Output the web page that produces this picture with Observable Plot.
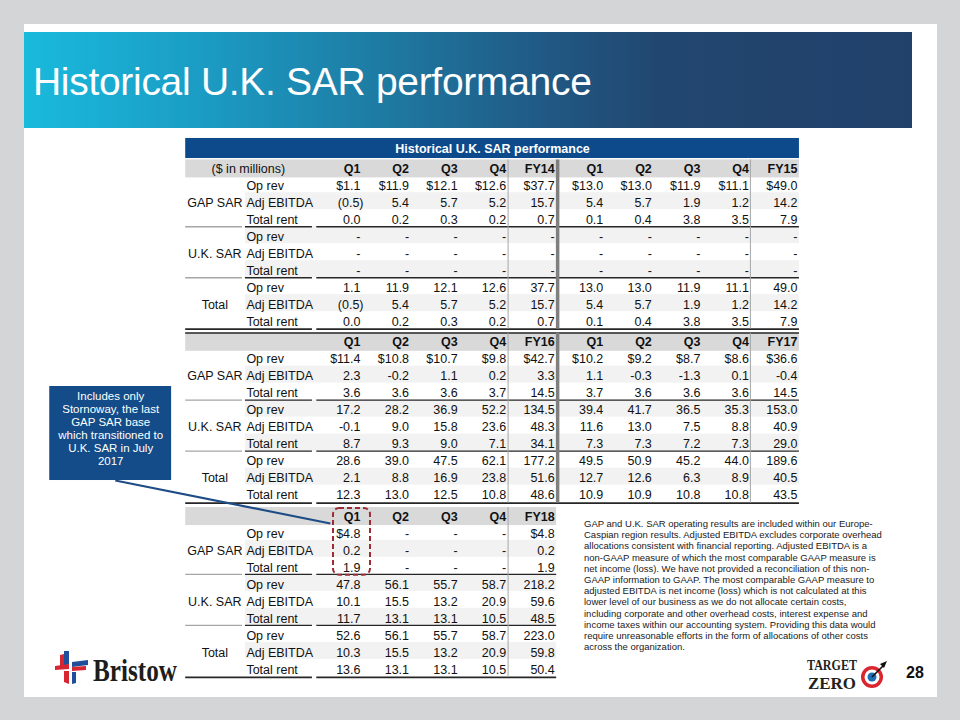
<!DOCTYPE html>
<html>
<head>
<meta charset="utf-8">
<script src="https://cdn.jsdelivr.net/npm/d3@7"></script>
<script src="https://cdn.jsdelivr.net/npm/@observablehq/plot@0.6"></script>
<style>
  html, body { margin: 0; padding: 0; }
  body { width: 960px; height: 720px; background: #d4d5d7; position: relative; overflow: hidden;
         font-family: "Liberation Sans", Arial, sans-serif; }
  #slide { position: absolute; left: 24px; top: 24px; width: 913px; height: 673px; background: #fff; }
  #banner { position: absolute; left: 24px; top: 32px; width: 888px; height: 96px;
            background: linear-gradient(to right, #19badd 0%, #1b9cc4 20%, #1e7ba3 40%, #205a85 58%, #21466f 72%, #21416b 100%); }
  #title { position: absolute; left: 33px; top: 62px; color: #fff; font-size: 39px; line-height: 39px;
           white-space: nowrap; letter-spacing: -0.3px; }
  #chart { position: absolute; left: 0; top: 0; }
  #note { position: absolute; left: 584px; top: 518px; font-size: 9.5px; line-height: 11.2px; color: #1a1a1a;
          white-space: nowrap; }
  #page { position: absolute; left: 906px; top: 664px; font-size: 16px; font-weight: bold; color: #111; }
  #logos { position: absolute; left: 0; top: 0; }
</style>
</head>
<body>
<div id="slide"></div>
<div id="banner"></div>
<div id="title">Historical U.K. SAR performance</div>
<div id="chart"></div>
<div id="note">GAP and U.K. SAR operating results are included within our Europe-<br>Caspian region results. Adjusted EBITDA excludes corporate overhead<br>allocations consistent with financial reporting. Adjusted EBITDA is a<br>non-GAAP measure of which the most comparable GAAP measure is<br>net income (loss). We have not provided a reconciliation of this non-<br>GAAP information to GAAP. The most comparable GAAP measure to<br>adjusted EBITDA is net income (loss) which is not calculated at this<br>lower level of our business as we do not allocate certain costs,<br>including corporate and other overhead costs, interest expense and<br>income taxes within our accounting system. Providing this data would<br>require unreasonable efforts in the form of allocations of other costs<br>across the organization.</div>
<div id="page">28</div>
<svg id="logos" width="960" height="720">
  <!-- Bristow mark -->
  <g>
    <polygon points="64,651 69,651 69,664 64,666" fill="#1f4f9a"/>
    <polygon points="60,655 64,654 64,666 60,667" fill="#d62631"/>
    <polygon points="55,666 69,664 69,669 55,670" fill="#d62631"/>
    <polygon points="72,662 88,660 88,665 72,667" fill="#1f4f9a"/>
    <polygon points="72,667 86,666 86,670 72,671" fill="#d62631"/>
    <polygon points="64,671 69,671 69,684 64,682" fill="#d62631"/>
    <polygon points="72,672 76,672 76,683 72,684" fill="#1f4f9a"/>
  </g>
  <text x="93" y="681" font-family="'Liberation Serif', 'DejaVu Serif', serif" font-weight="bold" font-size="31" fill="#1d1d1b" textLength="84" lengthAdjust="spacingAndGlyphs">Bristow</text>
  <!-- Target Zero -->
  <text x="807" y="670" font-family="'Liberation Serif', serif" font-weight="bold" font-size="14.5" fill="#231f20" textLength="50" lengthAdjust="spacingAndGlyphs">TARGET</text>
  <text x="808" y="689" font-family="'Liberation Serif', serif" font-weight="bold" font-size="17.5" fill="#231f20" textLength="48" lengthAdjust="spacingAndGlyphs">ZERO</text>
  <circle cx="872" cy="677" r="11" fill="#d9262f"/>
  <circle cx="872" cy="677" r="7.5" fill="#fff"/>
  <circle cx="872" cy="677" r="4.5" fill="#1c6fb5"/>
  <line x1="872" y1="677" x2="884" y2="665" stroke="#111" stroke-width="1.6"/>
  <polygon points="880,664 887,661 884,668" fill="#111"/>
</svg>
<script>
// ---------- data ----------
const tableTitle = "Historical U.K. SAR performance";
const unitLabel = "($ in millions)";
const segments = ["GAP SAR", "U.K. SAR", "Total"];
const metrics = ["Op rev", "Adj EBITDA", "Total rent"];

const periods1 = ["Q1", "Q2", "Q3", "Q4", "FY14", "Q1", "Q2", "Q3", "Q4", "FY15"];
const periods2 = ["Q1", "Q2", "Q3", "Q4", "FY16", "Q1", "Q2", "Q3", "Q4", "FY17"];
const periods3 = ["Q1", "Q2", "Q3", "Q4", "FY18"];

// FY14-FY15
const gap1415 = [
  [1.1, 11.9, 12.1, 12.6, 37.7, 13.0, 13.0, 11.9, 11.1, 49.0],
  [-0.5, 5.4, 5.7, 5.2, 15.7, 5.4, 5.7, 1.9, 1.2, 14.2],
  [0.0, 0.2, 0.3, 0.2, 0.7, 0.1, 0.4, 3.8, 3.5, 7.9]
];
const uk1415 = [
  [null, null, null, null, null, null, null, null, null, null],
  [null, null, null, null, null, null, null, null, null, null],
  [null, null, null, null, null, null, null, null, null, null]
];
const total1415 = [
  [1.1, 11.9, 12.1, 12.6, 37.7, 13.0, 13.0, 11.9, 11.1, 49.0],
  [-0.5, 5.4, 5.7, 5.2, 15.7, 5.4, 5.7, 1.9, 1.2, 14.2],
  [0.0, 0.2, 0.3, 0.2, 0.7, 0.1, 0.4, 3.8, 3.5, 7.9]
];
// FY16-FY17
const gap1617 = [
  [11.4, 10.8, 10.7, 9.8, 42.7, 10.2, 9.2, 8.7, 8.6, 36.6],
  [2.3, -0.2, 1.1, 0.2, 3.3, 1.1, -0.3, -1.3, 0.1, -0.4],
  [3.6, 3.6, 3.6, 3.7, 14.5, 3.7, 3.6, 3.6, 3.6, 14.5]
];
const uk1617 = [
  [17.2, 28.2, 36.9, 52.2, 134.5, 39.4, 41.7, 36.5, 35.3, 153.0],
  [-0.1, 9.0, 15.8, 23.6, 48.3, 11.6, 13.0, 7.5, 8.8, 40.9],
  [8.7, 9.3, 9.0, 7.1, 34.1, 7.3, 7.3, 7.2, 7.3, 29.0]
];
const total1617 = [
  [28.6, 39.0, 47.5, 62.1, 177.2, 49.5, 50.9, 45.2, 44.0, 189.6],
  [2.1, 8.8, 16.9, 23.8, 51.6, 12.7, 12.6, 6.3, 8.9, 40.5],
  [12.3, 13.0, 12.5, 10.8, 48.6, 10.9, 10.9, 10.8, 10.8, 43.5]
];
// FY18
const gap18 = [
  [4.8, null, null, null, 4.8],
  [0.2, null, null, null, 0.2],
  [1.9, null, null, null, 1.9]
];
const uk18 = [
  [47.8, 56.1, 55.7, 58.7, 218.2],
  [10.1, 15.5, 13.2, 20.9, 59.6],
  [11.7, 13.1, 13.1, 10.5, 48.5]
];
const total18 = [
  [52.6, 56.1, 55.7, 58.7, 223.0],
  [10.3, 15.5, 13.2, 20.9, 59.8],
  [13.6, 13.1, 13.1, 10.5, 50.4]
];
const calloutLines = ["Includes only", "Stornoway, the last", "GAP SAR base", "which transitioned to", "U.K. SAR in July", "2017"];

// ---------- table structure ----------
const tables = [
  {periods: periods1, data: [gap1415, uk1415, total1415], parens: true},
  {periods: periods2, data: [gap1617, uk1617, total1617], parens: false},
  {periods: periods3, data: [gap18, uk18, total18], parens: false}
];
const offsets = [0, 10.2, 20.45];
const LEFT = -3.6;
const rightOf = t => tables[t].periods.length - 1 + 0.04;
const rowU = (t, r) => offsets[t] + 2.2 + r;
const headU = t => offsets[t] + 1.2;

function fmt(v, parens, s, m) {
  if (v == null) return "-";
  const a = Math.abs(v).toFixed(1);
  let str = v < 0 ? (parens ? `(${a})` : `-${a}`) : a;
  if (s === 0 && m === 0) str = "$" + str;
  return str;
}

const stripes = [], headRects = [], cells = [], parenCells = [], rowLabels = [], groupLabels = [], headTexts = [];
const hLines = [], vLines = [];
const DARK = "#262626", LIGHT = "#a6a6a6";

tables.forEach((T, t) => {
  const R = rightOf(t);
  const hu = headU(t);
  headRects.push({x1: LEFT, x2: R, y1: hu - 0.53, y2: hu + 0.53});
  T.periods.forEach((p, c) => headTexts.push({x: c, y: hu, text: p}));
  T.data.forEach((seg, s) => seg.forEach((vals, m) => {
    const r = s * 3 + m, u = rowU(t, r);
    if (r % 2 === 1) stripes.push({x1: -2.37, x2: R, y1: u - 0.6, y2: u + 0.4});
    vals.forEach((v, c) => {
      const cell = {x: c, y: u, text: fmt(v, T.parens, s, m)};
      (v != null && v < 0 && T.parens ? parenCells : cells).push(cell);
    });
    rowLabels.push({x: -2.35, y: u, text: metrics[m]});
    if (m === 1) groupLabels.push({x: -3.0, y: u, text: segments[s]});
  }));
  // group separators
  [2, 5].forEach(r => {
    const y = rowU(t, r) + 0.4;
    hLines.push({y, x1: LEFT, x2: -2.43, stroke: LIGHT, w: 1.4});
    hLines.push({y, x1: -2.37, x2: -0.99, stroke: DARK, w: 1.4});
    hLines.push({y, x1: -0.9, x2: R, stroke: DARK, w: 1.4});
  });
  // bottom border
  const yb = rowU(t, 8) + (t === 0 ? 0.42 : 0.46);
  hLines.push({y: yb, x1: LEFT, x2: -0.99, stroke: DARK, w: 1.8});
  hLines.push({y: yb, x1: -0.9, x2: R, stroke: DARK, w: 1.8});
  // vertical separators
  vLines.push({x: 3.04, y1: hu - 0.53, y2: yb, stroke: LIGHT, w: 1});
  if (T.periods.length > 5) {
    vLines.push({x: 8.03, y1: hu - 0.53, y2: yb, stroke: LIGHT, w: 1});
    vLines.push({x: 4.06, y1: hu - 0.53, y2: yb, stroke: "#7f7f7f", w: 3.5});
  }
});
// top border of the second table header
hLines.push({y: headU(1) - 0.55, x1: LEFT, x2: rightOf(1), stroke: DARK, w: 1.6});

const titleBar = [{x1: LEFT, x2: rightOf(0), y1: -0.59, y2: 0.59}];
const highlight = [{x1: -0.556, x2: 0.206, y1: headU(2) - 0.47, y2: rowU(2, 2) + 0.45}];
const calloutBox = [{x1: -6.40, x2: -3.89, y1: 14.0, y2: 19.53}];
const leader = [{x1: -5.05, y1: 19.53, x2: -0.62, y2: 22.06}];

const FS = 12.5;
const plot = Plot.plot({
  width: 960,
  height: 720,
  margin: 0,
  x: {domain: [0, 9], range: [360, 797], axis: null},
  y: {domain: [0, 1], range: [148, 165], axis: null},
  style: {background: "transparent", fontFamily: "'Liberation Sans', Arial, sans-serif", fontSize: "12px", color: "#000", overflow: "visible"},
  marks: [
    Plot.rect(titleBar, {x1: "x1", x2: "x2", y1: "y1", y2: "y2", fill: "#0c4a8b"}),
    Plot.text([tableTitle], {x: 2.72, y: 0, text: d => d, fill: "#fff", fontWeight: "bold", fontSize: 12.5}),
    Plot.rect(headRects, {x1: "x1", x2: "x2", y1: "y1", y2: "y2", fill: "#d9d9d9"}),
    Plot.rect(stripes, {x1: "x1", x2: "x2", y1: "y1", y2: "y2", fill: "#f2f2f2"}),
    Plot.ruleY(hLines, {y: "y", x1: "x1", x2: "x2", stroke: "stroke", strokeWidth: "w"}),
    Plot.ruleX(vLines, {x: "x", y1: "y1", y2: "y2", stroke: "stroke", strokeWidth: "w"}),
    Plot.text([unitLabel], {x: -2.31, y: headU(0), text: d => d, fill: "#111", fontSize: FS}),
    Plot.text(headTexts, {x: "x", y: "y", text: "text", textAnchor: "end", fontWeight: "bold", fill: "#111", fontSize: FS}),
    Plot.text(cells, {x: "x", y: "y", text: "text", textAnchor: "end", fill: "#111", fontSize: FS}),
    Plot.text(parenCells, {x: "x", y: "y", text: "text", textAnchor: "end", dx: 3, fill: "#111", fontSize: FS}),
    Plot.text(rowLabels, {x: "x", y: "y", text: "text", textAnchor: "start", fill: "#111", fontSize: FS}),
    Plot.text(groupLabels, {x: "x", y: "y", text: "text", textAnchor: "middle", fill: "#111", fontSize: FS}),
    Plot.rect(highlight, {x1: "x1", x2: "x2", y1: "y1", y2: "y2", fill: "none", stroke: "#9e2a33", strokeWidth: 2, strokeDasharray: "5,3", rx: 6}),
    Plot.rect(calloutBox, {x1: "x1", x2: "x2", y1: "y1", y2: "y2", fill: "#134c88"}),
    Plot.text([calloutLines.join("\n")], {x: -5.145, y: 16.44, text: d => d, fill: "#fff", fontSize: 11.5, lineHeight: 1.13, textAnchor: "middle"}),
    Plot.link(leader, {x1: "x1", y1: "y1", x2: "x2", y2: "y2", stroke: "#1d4c86", strokeWidth: 2.2})
  ]
});
document.getElementById("chart").appendChild(plot);
</script>
</body>
</html>
